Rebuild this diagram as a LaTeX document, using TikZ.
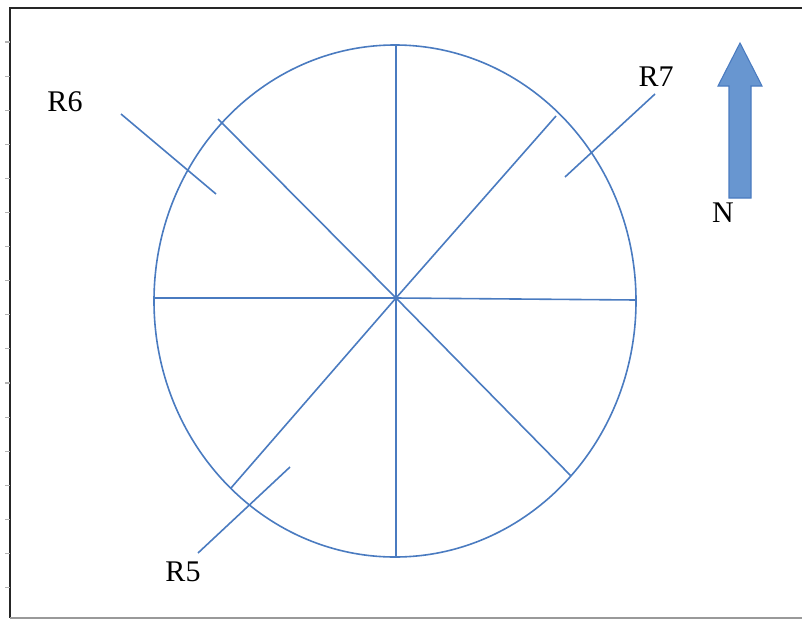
\documentclass[tikz,border=0pt]{standalone}
\usepackage{fontspec}
\setmainfont{Liberation Serif}
\usetikzlibrary{positioning, calc}
\definecolor{lineblue}{RGB}{74,123,192}
\definecolor{arrowfill}{RGB}{104,150,208}

\begin{document}
\begin{tikzpicture}[x=0.75pt, y=-0.75pt,
    spoke/.style={lineblue, line width=1.2pt},
    leader/.style={lineblue, line width=1.2pt},
    region/.style={font=\fontsize{22.5}{26}\selectfont, inner sep=0pt},
    frame/.style={line width=1.5pt, black!85},
    tickmark/.style={black!30, line width=0.8pt}
]
\useasboundingbox (0,0) rectangle (802,621);

% 边框
\draw[frame] (802,8) -- (10,8) -- (10,618);
\draw[black!40, line width=0.8pt] (10,618) -- (802,618);
\foreach \k in {0,...,16}
    \draw[tickmark] (5,{42+34.1*\k}) -- (10,{42+34.1*\k});

% 圆与分区
\coordinate (c) at (396,298);
\draw[spoke] (395,301) ellipse [x radius=241, y radius=256];

\coordinate (n) at (396,46);
\coordinate (s) at (396,557);
\coordinate (w) at (154,298);
\coordinate (e) at (636,300);
\coordinate (nw) at (218,119);
\coordinate (se) at (571,476);
\coordinate (ne) at (556,116);
\coordinate (sw) at (231,488);

\foreach \p in {n,s,w,e,nw,se,ne,sw}
    \draw[spoke] (c) -- (\p);

% 标注
\node[region] (r6) at (65,102) {R6};
\node[region] (r7) at (656,77) {R7};
\node[region] (r5) at (183,572) {R5};

\coordinate (r6a) at (121,114);
\coordinate (r6b) at (216,194);
\coordinate (r7a) at (655,94);
\coordinate (r7b) at (565,177);
\coordinate (r5a) at (198,553);
\coordinate (r5b) at (290,467);

\draw[leader] (r6a) -- (r6b);
\draw[leader] (r7a) -- (r7b);
\draw[leader] (r5a) -- (r5b);

% 指北箭头
\draw[lineblue, fill=arrowfill, line width=0.8pt]
    (729,198) -- (729,86) -- (718,86) -- (740,43) -- (762,86)
    -- (751,86) -- (751,198) -- cycle;
\node[region] (north) at (723,213) {N};

\end{tikzpicture}
\end{document}
